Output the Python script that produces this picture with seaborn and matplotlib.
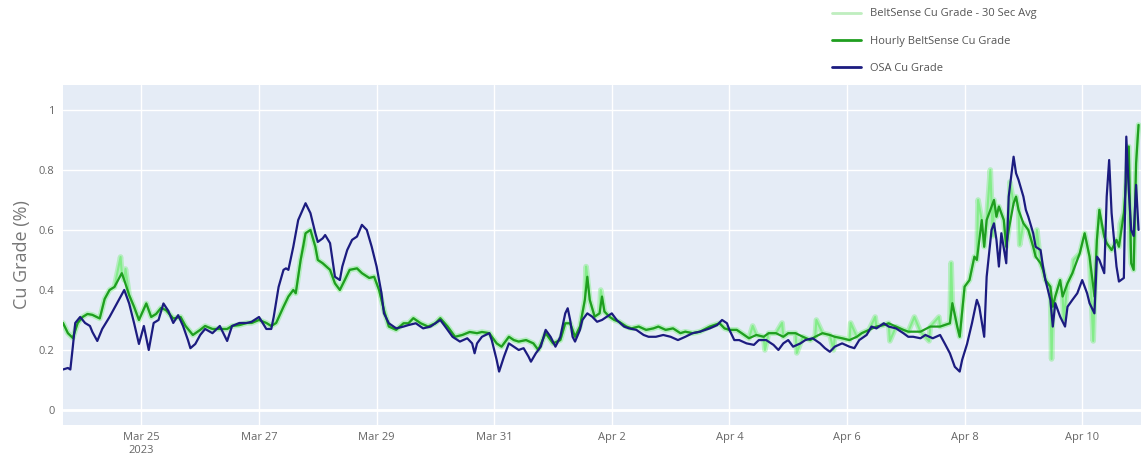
import matplotlib
matplotlib.use("Agg")
import matplotlib.pyplot as plt
from matplotlib.lines import Line2D
import pandas as pd
import seaborn as sns

# Hours are counted from 2023-03-25 00:00
osa_hour = [-32, -30, -29, -28, -27, -25, -23, -21, -20, -18, -16, -13, -10, -7, -5, -3, -1, 1, 3, 5,
            7, 9, 11, 13, 15, 17, 19, 20, 22, 24, 26, 29, 32, 35, 37, 40, 43, 45, 48, 51,
            53, 54, 56, 58, 59, 60, 62, 64, 67, 69, 71, 72, 74, 75, 77, 78, 79, 81, 82, 84,
            86, 88, 90, 92, 94, 96, 98, 99, 101, 104, 107, 109, 112, 115, 118, 120, 122, 124, 127, 130,
            133, 135, 136, 137, 139, 142, 143, 145, 146, 148, 150, 152, 154, 156, 158, 159, 161, 163, 165, 167,
            169, 171, 173, 174, 175, 176, 177, 179, 180, 182, 184, 186, 188, 190, 192, 194, 197, 199, 202, 205,
            207, 210, 213, 216, 219, 222, 225, 228, 232, 235, 237, 239, 240, 242, 244, 247, 250, 252, 255, 258,
            260, 262, 264, 266, 269, 271, 274, 277, 279, 281, 283, 286, 289, 291, 293, 296, 298, 300, 303, 305,
            308, 311, 313, 315, 318, 320, 323, 326, 328, 330, 332, 334, 335, 337, 339, 341, 342, 344, 345, 347,
            348, 349, 350, 351, 353, 354, 356, 357, 358, 360, 361, 362, 364, 365, 367, 368, 369, 371, 372, 373,
            375, 377, 378, 380, 382, 384, 386, 387, 389, 390, 391, 393, 394, 395, 396, 398, 399, 401, 402, 403,
            404, 405, 406, 407]
osa_grade = [0.135, 0.14, 0.135, 0.21, 0.29, 0.31, 0.29, 0.28, 0.26, 0.23, 0.27, 0.31, 0.355, 0.40, 0.355, 0.29, 0.22, 0.28, 0.20, 0.29,
             0.30, 0.355, 0.33, 0.29, 0.316, 0.28, 0.233, 0.206, 0.22, 0.25, 0.27, 0.256, 0.28, 0.23, 0.28, 0.29, 0.29, 0.294, 0.31, 0.27,
             0.27, 0.31, 0.41, 0.467, 0.472, 0.467, 0.544, 0.633, 0.689, 0.656, 0.589, 0.56, 0.572, 0.583, 0.556, 0.50, 0.444, 0.433, 0.478, 0.533,
             0.567, 0.578, 0.617, 0.60, 0.544, 0.478, 0.389, 0.322, 0.289, 0.272, 0.278, 0.283, 0.289, 0.272, 0.278, 0.289, 0.30, 0.278, 0.244, 0.228,
             0.239, 0.222, 0.189, 0.222, 0.244, 0.256, 0.233, 0.167, 0.128, 0.178, 0.222, 0.211, 0.20, 0.206, 0.178, 0.161, 0.189, 0.211, 0.267, 0.244,
             0.211, 0.244, 0.322, 0.339, 0.30, 0.244, 0.228, 0.267, 0.30, 0.322, 0.311, 0.294, 0.30, 0.311, 0.322, 0.30, 0.278, 0.272, 0.267, 0.25,
             0.244, 0.244, 0.25, 0.244, 0.233, 0.244, 0.256, 0.261, 0.272, 0.283, 0.30, 0.289, 0.267, 0.233, 0.233, 0.222, 0.217, 0.233, 0.233, 0.217,
             0.20, 0.222, 0.233, 0.211, 0.222, 0.233, 0.239, 0.222, 0.206, 0.194, 0.211, 0.222, 0.211, 0.206, 0.233, 0.25, 0.278, 0.272, 0.289, 0.278,
             0.272, 0.256, 0.244, 0.244, 0.239, 0.25, 0.239, 0.25, 0.22, 0.189, 0.144, 0.128, 0.167, 0.22, 0.289, 0.367, 0.344, 0.244, 0.444, 0.60,
             0.622, 0.567, 0.478, 0.589, 0.489, 0.711, 0.844, 0.789, 0.767, 0.711, 0.667, 0.644, 0.589, 0.544, 0.533, 0.478, 0.433, 0.367, 0.278, 0.356,
             0.311, 0.278, 0.344, 0.367, 0.389, 0.433, 0.389, 0.356, 0.322, 0.511, 0.50, 0.456, 0.711, 0.833, 0.656, 0.478, 0.428, 0.44, 0.911, 0.733,
             0.60, 0.58, 0.75, 0.60]

hourly_hour = [-32, -30, -28, -26, -24, -22, -20, -17, -15, -13, -11, -8, -7, -5, -3, -1, 2, 4, 6, 8,
               10, 13, 16, 18, 21, 24, 26, 29, 32, 35, 37, 40, 43, 45, 48, 51, 53, 55, 58, 60,
               62, 63, 65, 67, 69, 71, 72, 74, 77, 79, 81, 83, 85, 88, 90, 93, 95, 97, 99, 101,
               104, 107, 109, 111, 114, 117, 120, 122, 125, 128, 131, 134, 137, 139, 142, 145, 147, 150, 152, 154,
               157, 160, 162, 165, 168, 171, 173, 175, 177, 179, 181, 182, 183, 185, 187, 188, 189, 191, 193, 195,
               198, 200, 203, 206, 209, 211, 214, 217, 220, 222, 225, 228, 232, 236, 238, 240, 243, 245, 248, 251,
               254, 256, 259, 262, 264, 267, 270, 273, 275, 278, 281, 283, 286, 289, 292, 294, 297, 300, 303, 305,
               308, 311, 313, 318, 322, 326, 330, 331, 333, 334, 336, 338, 340, 341, 343, 344, 345, 348, 349, 350,
               352, 353, 354, 356, 357, 358, 360, 361, 362, 364, 365, 367, 368, 369, 371, 372, 373, 375, 376, 378,
               380, 383, 385, 387, 389, 390, 391, 393, 394, 396, 398, 399, 401, 403, 404, 405, 406, 407]
hourly_grade = [0.29, 0.256, 0.24, 0.29, 0.31, 0.32, 0.317, 0.305, 0.37, 0.40, 0.41, 0.456, 0.433, 0.383, 0.344, 0.30, 0.355, 0.31, 0.32, 0.34,
                0.333, 0.305, 0.31, 0.28, 0.25, 0.267, 0.28, 0.27, 0.27, 0.27, 0.28, 0.283, 0.29, 0.29, 0.30, 0.29, 0.28, 0.29, 0.344, 0.378,
                0.40, 0.389, 0.50, 0.589, 0.60, 0.544, 0.50, 0.489, 0.467, 0.422, 0.40, 0.433, 0.467, 0.472, 0.456, 0.44, 0.444, 0.40, 0.333, 0.278,
                0.267, 0.289, 0.289, 0.306, 0.289, 0.278, 0.289, 0.306, 0.278, 0.244, 0.25, 0.26, 0.256, 0.26, 0.256, 0.222, 0.211, 0.244, 0.233, 0.228,
                0.233, 0.222, 0.20, 0.256, 0.222, 0.233, 0.289, 0.289, 0.244, 0.278, 0.367, 0.444, 0.367, 0.311, 0.322, 0.378, 0.328, 0.311, 0.30, 0.294,
                0.278, 0.272, 0.278, 0.267, 0.272, 0.278, 0.267, 0.272, 0.256, 0.261, 0.256, 0.261, 0.278, 0.289, 0.272, 0.267, 0.267, 0.256, 0.239, 0.25,
                0.244, 0.256, 0.256, 0.244, 0.256, 0.256, 0.244, 0.233, 0.244, 0.256, 0.25, 0.244, 0.239, 0.233, 0.244, 0.256, 0.267, 0.278, 0.283, 0.289,
                0.278, 0.267, 0.261, 0.261, 0.278, 0.278, 0.289, 0.356, 0.278, 0.244, 0.411, 0.433, 0.511, 0.50, 0.633, 0.544, 0.633, 0.70, 0.644, 0.678,
                0.633, 0.544, 0.60, 0.689, 0.711, 0.667, 0.622, 0.611, 0.60, 0.544, 0.511, 0.489, 0.467, 0.433, 0.411, 0.344, 0.378, 0.433, 0.378, 0.422,
                0.456, 0.522, 0.589, 0.511, 0.378, 0.567, 0.667, 0.578, 0.556, 0.533, 0.567, 0.544, 0.656, 0.878, 0.489, 0.467, 0.822, 0.95]

# 30-second readings that stray from the hourly trace (spikes and dips)
avg30_extra_hour = [-8.5, -6.5, 66.5, 181.5, 187.5, 249.5, 254.5, 261.5, 267.5, 275.5, 282.5, 289.5, 299.5, 305.5,
                    315.5, 321.5, 325.5, 330.5, 341.5, 346.5, 347.5, 354.5, 358.5, 365.5, 371.5, 376.5, 380.5,
                    388.5, 391.5, 399.5, 403.5, 406.5]
avg30_extra_grade = [0.51, 0.47, 0.55, 0.478, 0.40, 0.28, 0.20, 0.29, 0.19, 0.30, 0.20, 0.29, 0.31, 0.23,
                     0.31, 0.23, 0.31, 0.49, 0.70, 0.80, 0.58, 0.76, 0.55, 0.60, 0.17, 0.30, 0.50,
                     0.23, 0.62, 0.62, 0.55, 0.90]

series_labels = ["BeltSense Cu Grade - 30 Sec Avg", "Hourly BeltSense Cu Grade", "OSA Cu Grade"]
tick_days = ["2023-03-25", "2023-03-27", "2023-03-29", "2023-03-31", "2023-04-02",
             "2023-04-04", "2023-04-06", "2023-04-08", "2023-04-10"]
tick_text = ["Mar 25\n2023", "Mar 27", "Mar 29", "Mar 31", "Apr 2", "Apr 4", "Apr 6", "Apr 8", "Apr 10"]
y_ticks = [0, 0.2, 0.4, 0.6, 0.8, 1.0]
y_tick_text = ["0", "0.2", "0.4", "0.6", "0.8", "1"]

base = pd.Timestamp("2023-03-25")


def frame(hours, grades):
    d = pd.DataFrame({"hour": hours, "grade": grades}).sort_values("hour")
    d["time"] = base + pd.to_timedelta(d["hour"], unit="h")
    return d


df_osa = frame(osa_hour, osa_grade)
df_hourly = frame(hourly_hour, hourly_grade)
df_avg30 = frame(hourly_hour + avg30_extra_hour, hourly_grade + avg30_extra_grade)

sns.set_theme(style="darkgrid", rc={
    "axes.facecolor": "#E5ECF6",
    "grid.color": "white",
    "grid.linewidth": 1.0,
    "axes.edgecolor": "#E5ECF6",
})
plt.rcParams["font.family"] = ["Open Sans", "DejaVu Sans"]

W, H = 1141, 458
fig = plt.figure(figsize=(W / 100, H / 100), dpi=100)
fig.patch.set_facecolor("white")
ax = fig.add_axes([63 / W, 1 - 425 / H, 1 - 63 / W, 340 / H])

c_avg = "#46ee46"
c_hourly = "#1f9e1f"
c_osa = "#1c1c80"

# soft band for the 30-second average, then its thinner core
sns.lineplot(data=df_avg30, x="time", y="grade", ax=ax, color=c_avg, alpha=0.3,
             linewidth=4.0, estimator=None, sort=False, legend=False)
sns.lineplot(data=df_avg30, x="time", y="grade", ax=ax, color=c_avg, alpha=0.45,
             linewidth=1.5, estimator=None, sort=False, legend=False)
sns.lineplot(data=df_hourly, x="time", y="grade", ax=ax, color=c_hourly,
             linewidth=1.6, estimator=None, sort=False, legend=False)
sns.lineplot(data=df_osa, x="time", y="grade", ax=ax, color=c_osa,
             linewidth=1.6, estimator=None, sort=False, legend=False)

ax.axhline(0, color="white", linewidth=2, zorder=1)
ax.set_ylim(-0.05, 1.083)
ax.set_xlim(df_osa["time"].min(), df_osa["time"].max() + pd.Timedelta(hours=1))
ax.set_yticks(y_ticks)
ax.set_yticklabels(y_tick_text)
ax.set_xticks(pd.to_datetime(tick_days))
ax.set_xticklabels(tick_text)
ax.tick_params(axis="both", length=0, labelsize=8, labelcolor="#666666")
ax.tick_params(axis="y", pad=6)
ax.tick_params(axis="x", pad=5)
for s in ax.spines.values():
    s.set_visible(False)
ax.set_xlabel("")
ax.set_ylabel("Cu Grade (%)", fontsize=13, color="#777777", labelpad=6)

handles = [Line2D([], [], color="#bfeebf", linewidth=2),
           Line2D([], [], color=c_hourly, linewidth=2),
           Line2D([], [], color=c_osa, linewidth=2)]
fig.legend(handles, series_labels, loc="upper left", bbox_to_anchor=(828 / W, 1 - 4 / H),
           frameon=False, fontsize=8, handlelength=2.6, labelspacing=1.45,
           labelcolor="#555555", borderaxespad=0)

fig.savefig("out.png", dpi=100)
